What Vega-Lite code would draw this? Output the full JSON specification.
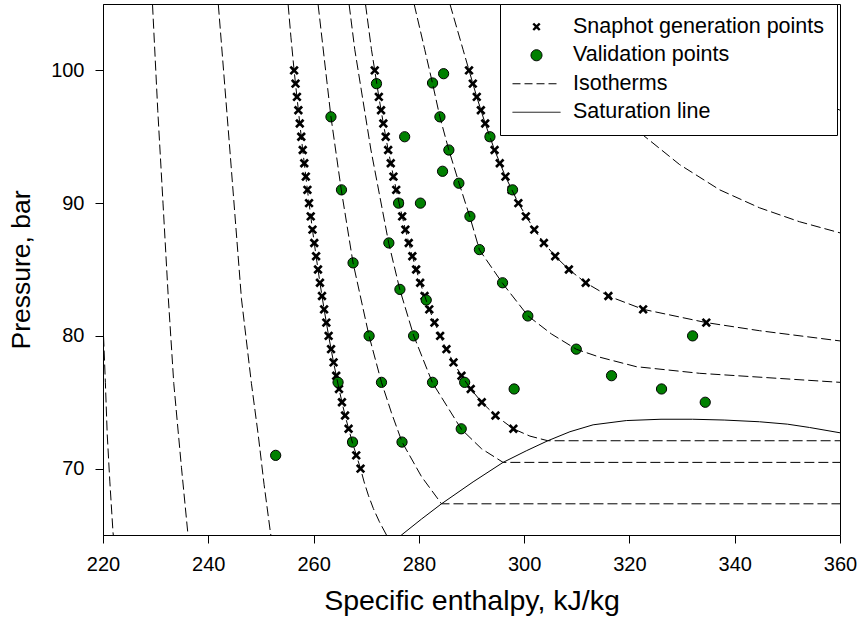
{
  "$schema": "https://vega.github.io/schema/vega-lite/v6.json",
  "width": 737,
  "height": 531,
  "autosize": {"type": "none"},
  "padding": {"left": 103, "top": 4, "right": 21, "bottom": 91},
  "background": "white",
  "datasets": {
    "snap": [
      {"series": "Snaphot generation points", "p": 100, "h": 256.30}, {"series": "Snaphot generation points", "p": 99, "h": 256.57},
      {"series": "Snaphot generation points", "p": 98, "h": 256.84}, {"series": "Snaphot generation points", "p": 97, "h": 257.11},
      {"series": "Snaphot generation points", "p": 96, "h": 257.38}, {"series": "Snaphot generation points", "p": 95, "h": 257.66},
      {"series": "Snaphot generation points", "p": 94, "h": 257.94}, {"series": "Snaphot generation points", "p": 93, "h": 258.23},
      {"series": "Snaphot generation points", "p": 92, "h": 258.53}, {"series": "Snaphot generation points", "p": 91, "h": 258.83},
      {"series": "Snaphot generation points", "p": 90, "h": 259.14}, {"series": "Snaphot generation points", "p": 89, "h": 259.46},
      {"series": "Snaphot generation points", "p": 88, "h": 259.79}, {"series": "Snaphot generation points", "p": 87, "h": 260.13},
      {"series": "Snaphot generation points", "p": 86, "h": 260.48}, {"series": "Snaphot generation points", "p": 85, "h": 260.84},
      {"series": "Snaphot generation points", "p": 84, "h": 261.21}, {"series": "Snaphot generation points", "p": 83, "h": 261.60},
      {"series": "Snaphot generation points", "p": 82, "h": 262.00}, {"series": "Snaphot generation points", "p": 81, "h": 262.42},
      {"series": "Snaphot generation points", "p": 80, "h": 262.86}, {"series": "Snaphot generation points", "p": 79, "h": 263.32},
      {"series": "Snaphot generation points", "p": 78, "h": 263.80}, {"series": "Snaphot generation points", "p": 77, "h": 264.30},
      {"series": "Snaphot generation points", "p": 76, "h": 264.83}, {"series": "Snaphot generation points", "p": 75, "h": 265.39},
      {"series": "Snaphot generation points", "p": 74, "h": 265.98}, {"series": "Snaphot generation points", "p": 73, "h": 266.65},
      {"series": "Snaphot generation points", "p": 72, "h": 267.35}, {"series": "Snaphot generation points", "p": 71, "h": 268.10},
      {"series": "Snaphot generation points", "p": 70, "h": 268.92},
      {"series": "Snaphot generation points", "p": 100, "h": 271.62}, {"series": "Snaphot generation points", "p": 99, "h": 272.00},
      {"series": "Snaphot generation points", "p": 98, "h": 272.40}, {"series": "Snaphot generation points", "p": 97, "h": 272.82},
      {"series": "Snaphot generation points", "p": 96, "h": 273.25}, {"series": "Snaphot generation points", "p": 95, "h": 273.70},
      {"series": "Snaphot generation points", "p": 94, "h": 274.17}, {"series": "Snaphot generation points", "p": 93, "h": 274.66},
      {"series": "Snaphot generation points", "p": 92, "h": 275.17}, {"series": "Snaphot generation points", "p": 91, "h": 275.70},
      {"series": "Snaphot generation points", "p": 90, "h": 276.25}, {"series": "Snaphot generation points", "p": 89, "h": 276.83},
      {"series": "Snaphot generation points", "p": 88, "h": 277.44}, {"series": "Snaphot generation points", "p": 87, "h": 278.08},
      {"series": "Snaphot generation points", "p": 86, "h": 278.76}, {"series": "Snaphot generation points", "p": 85, "h": 279.48},
      {"series": "Snaphot generation points", "p": 84, "h": 280.25}, {"series": "Snaphot generation points", "p": 83, "h": 281.08},
      {"series": "Snaphot generation points", "p": 82, "h": 281.98}, {"series": "Snaphot generation points", "p": 81, "h": 282.96},
      {"series": "Snaphot generation points", "p": 80, "h": 284.04}, {"series": "Snaphot generation points", "p": 79, "h": 285.24},
      {"series": "Snaphot generation points", "p": 78, "h": 286.58}, {"series": "Snaphot generation points", "p": 77, "h": 288.10},
      {"series": "Snaphot generation points", "p": 76, "h": 289.85}, {"series": "Snaphot generation points", "p": 75, "h": 291.95},
      {"series": "Snaphot generation points", "p": 74, "h": 294.55}, {"series": "Snaphot generation points", "p": 73, "h": 297.95},
      {"series": "Snaphot generation points", "p": 100, "h": 289.53}, {"series": "Snaphot generation points", "p": 99, "h": 290.25},
      {"series": "Snaphot generation points", "p": 98, "h": 291.00}, {"series": "Snaphot generation points", "p": 97, "h": 291.78},
      {"series": "Snaphot generation points", "p": 96, "h": 292.60}, {"series": "Snaphot generation points", "p": 95, "h": 293.46},
      {"series": "Snaphot generation points", "p": 94, "h": 294.38}, {"series": "Snaphot generation points", "p": 93, "h": 295.37},
      {"series": "Snaphot generation points", "p": 92, "h": 296.45}, {"series": "Snaphot generation points", "p": 91, "h": 297.62},
      {"series": "Snaphot generation points", "p": 90, "h": 298.90}, {"series": "Snaphot generation points", "p": 89, "h": 300.32},
      {"series": "Snaphot generation points", "p": 88, "h": 301.92}, {"series": "Snaphot generation points", "p": 87, "h": 303.75},
      {"series": "Snaphot generation points", "p": 86, "h": 305.90}, {"series": "Snaphot generation points", "p": 85, "h": 308.50},
      {"series": "Snaphot generation points", "p": 84, "h": 311.70}, {"series": "Snaphot generation points", "p": 83, "h": 316.00},
      {"series": "Snaphot generation points", "p": 82, "h": 322.60}, {"series": "Snaphot generation points", "p": 81, "h": 334.60}
    ],
    "valid": [
      {"series": "Validation points", "h": 284.7, "p": 99.75}, {"series": "Validation points", "h": 271.95, "p": 99.0},
      {"series": "Validation points", "h": 282.6, "p": 99.05}, {"series": "Validation points", "h": 263.3, "p": 96.5},
      {"series": "Validation points", "h": 284.0, "p": 96.5}, {"series": "Validation points", "h": 277.3, "p": 95.0},
      {"series": "Validation points", "h": 293.5, "p": 95.0}, {"series": "Validation points", "h": 285.7, "p": 94.0},
      {"series": "Validation points", "h": 284.5, "p": 92.4}, {"series": "Validation points", "h": 287.6, "p": 91.5},
      {"series": "Validation points", "h": 297.8, "p": 91.0}, {"series": "Validation points", "h": 265.3, "p": 91.0},
      {"series": "Validation points", "h": 276.15, "p": 90.0}, {"series": "Validation points", "h": 280.3, "p": 90.0},
      {"series": "Validation points", "h": 289.7, "p": 89.0}, {"series": "Validation points", "h": 274.3, "p": 87.0},
      {"series": "Validation points", "h": 291.5, "p": 86.5}, {"series": "Validation points", "h": 267.5, "p": 85.5},
      {"series": "Validation points", "h": 276.4, "p": 83.5}, {"series": "Validation points", "h": 295.9, "p": 84.0},
      {"series": "Validation points", "h": 281.4, "p": 82.7}, {"series": "Validation points", "h": 300.7, "p": 81.5},
      {"series": "Validation points", "h": 270.55, "p": 80.0}, {"series": "Validation points", "h": 279.0, "p": 80.0},
      {"series": "Validation points", "h": 332.0, "p": 80.0}, {"series": "Validation points", "h": 309.9, "p": 79.0},
      {"series": "Validation points", "h": 264.65, "p": 76.5}, {"series": "Validation points", "h": 272.9, "p": 76.5},
      {"series": "Validation points", "h": 282.6, "p": 76.5}, {"series": "Validation points", "h": 288.7, "p": 76.5},
      {"series": "Validation points", "h": 316.6, "p": 77.0}, {"series": "Validation points", "h": 298.1, "p": 76.0},
      {"series": "Validation points", "h": 326.1, "p": 76.0}, {"series": "Validation points", "h": 334.4, "p": 75.0},
      {"series": "Validation points", "h": 288.05, "p": 73.0}, {"series": "Validation points", "h": 267.4, "p": 72.0},
      {"series": "Validation points", "h": 276.8, "p": 72.0}, {"series": "Validation points", "h": 252.8, "p": 71.0}
    ],
    "iso": [
      {"id": "L1", "h": 219.9, "p": 81.0}, {"id": "L1", "h": 220.1, "p": 80.0}, {"id": "L1", "h": 220.45, "p": 76.5},
      {"id": "L1", "h": 220.8, "p": 72.6}, {"id": "L1", "h": 221.3, "p": 69.0}, {"id": "L1", "h": 221.9, "p": 65.2},
      {"id": "L1", "h": 222.1, "p": 64.5},
      {"id": "L2", "h": 229.3, "p": 106.0}, {"id": "L2", "h": 229.4, "p": 105.0}, {"id": "L2", "h": 230.4, "p": 97.0},
      {"id": "L2", "h": 231.4, "p": 90.0}, {"id": "L2", "h": 232.4, "p": 82.9}, {"id": "L2", "h": 233.45, "p": 76.4},
      {"id": "L2", "h": 234.9, "p": 70.1}, {"id": "L2", "h": 236.1, "p": 65.2}, {"id": "L2", "h": 236.3, "p": 64.5},
      {"id": "L3", "h": 241.7, "p": 106.0}, {"id": "L3", "h": 241.9, "p": 105.0}, {"id": "L3", "h": 244.1, "p": 94.0},
      {"id": "L3", "h": 246.3, "p": 82.8}, {"id": "L3", "h": 248.2, "p": 76.4}, {"id": "L3", "h": 249.5, "p": 72.5},
      {"id": "L3", "h": 250.6, "p": 68.8}, {"id": "L3", "h": 251.8, "p": 65.2}, {"id": "L3", "h": 252.1, "p": 64.5},
      {"id": "L4", "h": 254.9, "p": 106.0}, {"id": "L4", "h": 255.16, "p": 105.0}, {"id": "L4", "h": 255.7, "p": 102.5},
      {"id": "L4", "h": 256.30, "p": 100}, {"id": "L4", "h": 256.84, "p": 98}, {"id": "L4", "h": 257.38, "p": 96},
      {"id": "L4", "h": 257.94, "p": 94}, {"id": "L4", "h": 258.53, "p": 92}, {"id": "L4", "h": 259.14, "p": 90},
      {"id": "L4", "h": 259.79, "p": 88}, {"id": "L4", "h": 260.48, "p": 86}, {"id": "L4", "h": 261.21, "p": 84},
      {"id": "L4", "h": 262.00, "p": 82}, {"id": "L4", "h": 262.86, "p": 80}, {"id": "L4", "h": 263.80, "p": 78},
      {"id": "L4", "h": 264.83, "p": 76}, {"id": "L4", "h": 265.98, "p": 74}, {"id": "L4", "h": 267.35, "p": 72},
      {"id": "L4", "h": 268.92, "p": 70}, {"id": "L4", "h": 269.6, "p": 69}, {"id": "L4", "h": 270.4, "p": 68},
      {"id": "L4", "h": 271.35, "p": 67}, {"id": "L4", "h": 272.5, "p": 66}, {"id": "L4", "h": 273.85, "p": 65},
      {"id": "L4", "h": 274.6, "p": 64.5},
      {"id": "L5", "h": 260.6, "p": 106.0}, {"id": "L5", "h": 260.85, "p": 105.0}, {"id": "L5", "h": 262.0, "p": 101.0},
      {"id": "L5", "h": 263.3, "p": 96.5}, {"id": "L5", "h": 265.26, "p": 91.0}, {"id": "L5", "h": 267.5, "p": 85.5},
      {"id": "L5", "h": 270.54, "p": 80.0}, {"id": "L5", "h": 272.9, "p": 76.5}, {"id": "L5", "h": 274.8, "p": 74.2},
      {"id": "L5", "h": 276.81, "p": 72.0}, {"id": "L5", "h": 280.5, "p": 69.4}, {"id": "L5", "h": 284.3, "p": 67.35},
      {"id": "L5", "h": 360.0, "p": 67.35},
      {"id": "L6", "h": 266.4, "p": 106.0}, {"id": "L6", "h": 266.74, "p": 105.0}, {"id": "L6", "h": 267.83, "p": 101.56},
      {"id": "L6", "h": 270.9, "p": 94.0}, {"id": "L6", "h": 274.28, "p": 86.98}, {"id": "L6", "h": 276.37, "p": 83.51},
      {"id": "L6", "h": 279.03, "p": 80.0}, {"id": "L6", "h": 282.58, "p": 76.47}, {"id": "L6", "h": 288.05, "p": 72.98},
      {"id": "L6", "h": 291.9, "p": 71.5}, {"id": "L6", "h": 296.0, "p": 70.47}, {"id": "L6", "h": 360.0, "p": 70.47},
      {"id": "L7", "h": 269.5, "p": 106.0}, {"id": "L7", "h": 269.86, "p": 105.0}, {"id": "L7", "h": 271.0, "p": 101.56},
      {"id": "L7", "h": 271.62, "p": 100}, {"id": "L7", "h": 272.40, "p": 98}, {"id": "L7", "h": 273.25, "p": 96},
      {"id": "L7", "h": 274.17, "p": 94}, {"id": "L7", "h": 275.17, "p": 92}, {"id": "L7", "h": 276.25, "p": 90},
      {"id": "L7", "h": 277.44, "p": 88}, {"id": "L7", "h": 278.76, "p": 86}, {"id": "L7", "h": 280.25, "p": 84},
      {"id": "L7", "h": 281.98, "p": 82}, {"id": "L7", "h": 284.04, "p": 80}, {"id": "L7", "h": 285.24, "p": 79},
      {"id": "L7", "h": 286.58, "p": 78}, {"id": "L7", "h": 288.10, "p": 77}, {"id": "L7", "h": 289.85, "p": 76},
      {"id": "L7", "h": 291.95, "p": 75}, {"id": "L7", "h": 294.55, "p": 74}, {"id": "L7", "h": 297.95, "p": 73},
      {"id": "L7", "h": 301.1, "p": 72.45}, {"id": "L7", "h": 304.5, "p": 72.1}, {"id": "L7", "h": 360.0, "p": 72.1},
      {"id": "L8", "h": 278.5, "p": 106.0}, {"id": "L8", "h": 279.1, "p": 105.0}, {"id": "L8", "h": 281.12, "p": 101.56},
      {"id": "L8", "h": 282.58, "p": 99.05}, {"id": "L8", "h": 283.97, "p": 96.53}, {"id": "L8", "h": 285.68, "p": 94.02},
      {"id": "L8", "h": 287.63, "p": 91.51}, {"id": "L8", "h": 289.67, "p": 88.99}, {"id": "L8", "h": 291.51, "p": 86.48},
      {"id": "L8", "h": 295.88, "p": 83.97}, {"id": "L8", "h": 300.74, "p": 81.5}, {"id": "L8", "h": 305.2, "p": 80.14},
      {"id": "L8", "h": 309.93, "p": 78.99}, {"id": "L8", "h": 314.4, "p": 78.39}, {"id": "L8", "h": 321.3, "p": 77.68},
      {"id": "L8", "h": 333.35, "p": 77.18}, {"id": "L8", "h": 360.0, "p": 76.5},
      {"id": "L9", "h": 285.2, "p": 106.0}, {"id": "L9", "h": 285.9, "p": 105.0}, {"id": "L9", "h": 288.4, "p": 101.56},
      {"id": "L9", "h": 289.53, "p": 100}, {"id": "L9", "h": 291.00, "p": 98}, {"id": "L9", "h": 292.60, "p": 96},
      {"id": "L9", "h": 294.38, "p": 94}, {"id": "L9", "h": 296.45, "p": 92}, {"id": "L9", "h": 298.90, "p": 90},
      {"id": "L9", "h": 301.92, "p": 88}, {"id": "L9", "h": 303.75, "p": 87}, {"id": "L9", "h": 305.90, "p": 86},
      {"id": "L9", "h": 308.50, "p": 85}, {"id": "L9", "h": 311.70, "p": 84}, {"id": "L9", "h": 316.00, "p": 83},
      {"id": "L9", "h": 322.60, "p": 82}, {"id": "L9", "h": 334.60, "p": 81}, {"id": "L9", "h": 344.7, "p": 80.39},
      {"id": "L9", "h": 360.0, "p": 79.62},
      {"id": "L10", "h": 305.0, "p": 106.0}, {"id": "L10", "h": 312.0, "p": 102.0}, {"id": "L10", "h": 318.0, "p": 98.5},
      {"id": "L10", "h": 322.5, "p": 95.15}, {"id": "L10", "h": 329.55, "p": 92.9}, {"id": "L10", "h": 337.15, "p": 91.0},
      {"id": "L10", "h": 344.7, "p": 89.65}, {"id": "L10", "h": 352.3, "p": 88.6}, {"id": "L10", "h": 360.0, "p": 87.76},
      {"id": "L11", "h": 335.0, "p": 105.0}, {"id": "L11", "h": 340.0, "p": 102.5}, {"id": "L11", "h": 345.0, "p": 100.5},
      {"id": "L11", "h": 350.0, "p": 99.0}, {"id": "L11", "h": 355.0, "p": 97.9}, {"id": "L11", "h": 360.0, "p": 97.0}
    ],
    "sat": [
      {"h": 275.5, "p": 64.6}, {"h": 276.7, "p": 65.0}, {"h": 280.5, "p": 66.2}, {"h": 284.3, "p": 67.35},
      {"h": 290.3, "p": 69.0}, {"h": 296.0, "p": 70.47}, {"h": 300.4, "p": 71.34}, {"h": 304.5, "p": 72.1},
      {"h": 308.7, "p": 72.78}, {"h": 313.1, "p": 73.3}, {"h": 319.4, "p": 73.62}, {"h": 326.0, "p": 73.72},
      {"h": 332.0, "p": 73.72}, {"h": 338.0, "p": 73.66}, {"h": 344.7, "p": 73.53}, {"h": 350.0, "p": 73.35},
      {"h": 354.2, "p": 73.1}, {"h": 360.0, "p": 72.7}
    ]
  },
  "encoding": {
    "x": {
      "field": "h", "type": "quantitative",
      "scale": {"domain": [220, 360], "nice": false, "zero": false},
      "axis": {"values": [220, 240, 260, 280, 300, 320, 340, 360], "title": "Specific enthalpy, kJ/kg", "labelPadding": 11, "titlePadding": 12, "titleFontSize": 28.5, "labelFlush": false}
    },
    "y": {
      "field": "p", "type": "quantitative",
      "scale": {"domain": [65, 105], "nice": false, "zero": false},
      "axis": {"values": [70, 80, 90, 100], "title": "Pressure, bar", "labelPadding": 11, "titlePadding": 15, "titleFontSize": 26.5, "labelFlush": false}
    }
  },
  "layer": [
    {
      "data": {"name": "snap"},
      "mark": {"type": "point", "filled": true, "size": 88, "strokeWidth": 0, "opacity": 1, "clip": true,
               "shape": "M-1,-0.6L-0.6,-1L0,-0.4L0.6,-1L1,-0.6L0.4,0L1,0.6L0.6,1L0,0.4L-0.6,1L-1,0.6L-0.4,0Z"},
      "encoding": {
        "color": {
          "field": "series", "type": "nominal",
          "scale": {"domain": ["Snaphot generation points", "Validation points", "Isotherms", "Saturation line"],
                    "range": ["black", "#008000", "black", "black"]},
          "legend": {
            "orient": "none", "legendX": 397, "legendY": 0,
            "title": null, "direction": "vertical",
            "fillColor": "white", "strokeColor": "black",
            "padding": 12,
            "labelFont": "Liberation Sans", "labelFontSize": 21.5, "labelColor": "black", "labelLimit": 400,
            "labelOffset": 12, "rowPadding": 5.5, "clipHeight": 21.5,
            "symbolType": "stroke", "symbolSize": 2304, "symbolStrokeWidth": 1, "symbolOpacity": 1,
            "encode": {
              "symbols": {
                "update": {
                  "shape": {"signal": "datum.value == 'Snaphot generation points' ? 'M-0.17,-0.1L-0.1,-0.17L0,-0.07L0.1,-0.17L0.17,-0.1L0.07,0L0.17,0.1L0.1,0.17L0,0.07L-0.1,0.17L-0.17,0.1L-0.07,0Z' : datum.value == 'Validation points' ? 'M-0.23,0A0.23,0.23,0,1,0,0.23,0A0.23,0.23,0,1,0,-0.23,0Z' : 'stroke'"},
                  "fill": {"signal": "datum.value == 'Snaphot generation points' ? 'black' : datum.value == 'Validation points' ? '#008000' : 'transparent'"},
                  "stroke": {"signal": "datum.value == 'Snaphot generation points' ? 'transparent' : 'black'"},
                  "strokeDash": {"signal": "datum.value == 'Isotherms' ? [8, 4] : [1, 0]"},
                  "opacity": {"value": 1}
                }
              }
            }
          }
        }
      }
    },
    {
      "data": {"name": "valid"},
      "mark": {"type": "point", "shape": "circle", "filled": true, "size": 105, "stroke": "black", "strokeWidth": 1, "opacity": 1, "clip": true},
      "encoding": {
        "color": {
          "field": "series", "type": "nominal",
          "scale": {"domain": ["Snaphot generation points", "Validation points", "Isotherms", "Saturation line"],
                    "range": ["black", "#008000", "black", "black"]}
        }
      }
    },
    {
      "data": {"name": "iso"},
      "mark": {"type": "line", "color": "black", "strokeWidth": 1, "strokeDash": [10, 4], "clip": true},
      "encoding": {"detail": {"field": "id", "type": "nominal"}}
    },
    {
      "data": {"name": "sat"},
      "mark": {"type": "line", "color": "black", "strokeWidth": 1, "clip": true},
      "encoding": {}
    }
  ],
  "config": {
    "font": "Liberation Sans",
    "view": {"stroke": "black", "strokeWidth": 1},
    "axis": {
      "grid": false, "domainColor": "black", "domainWidth": 1, "tickColor": "black", "tickWidth": 1, "tickSize": 8,
      "labelFont": "Liberation Sans", "labelFontSize": 20, "labelColor": "black",
      "titleFont": "Liberation Sans", "titleFontSize": 26, "titleFontWeight": "normal", "titleColor": "black"
    }
  }
}
